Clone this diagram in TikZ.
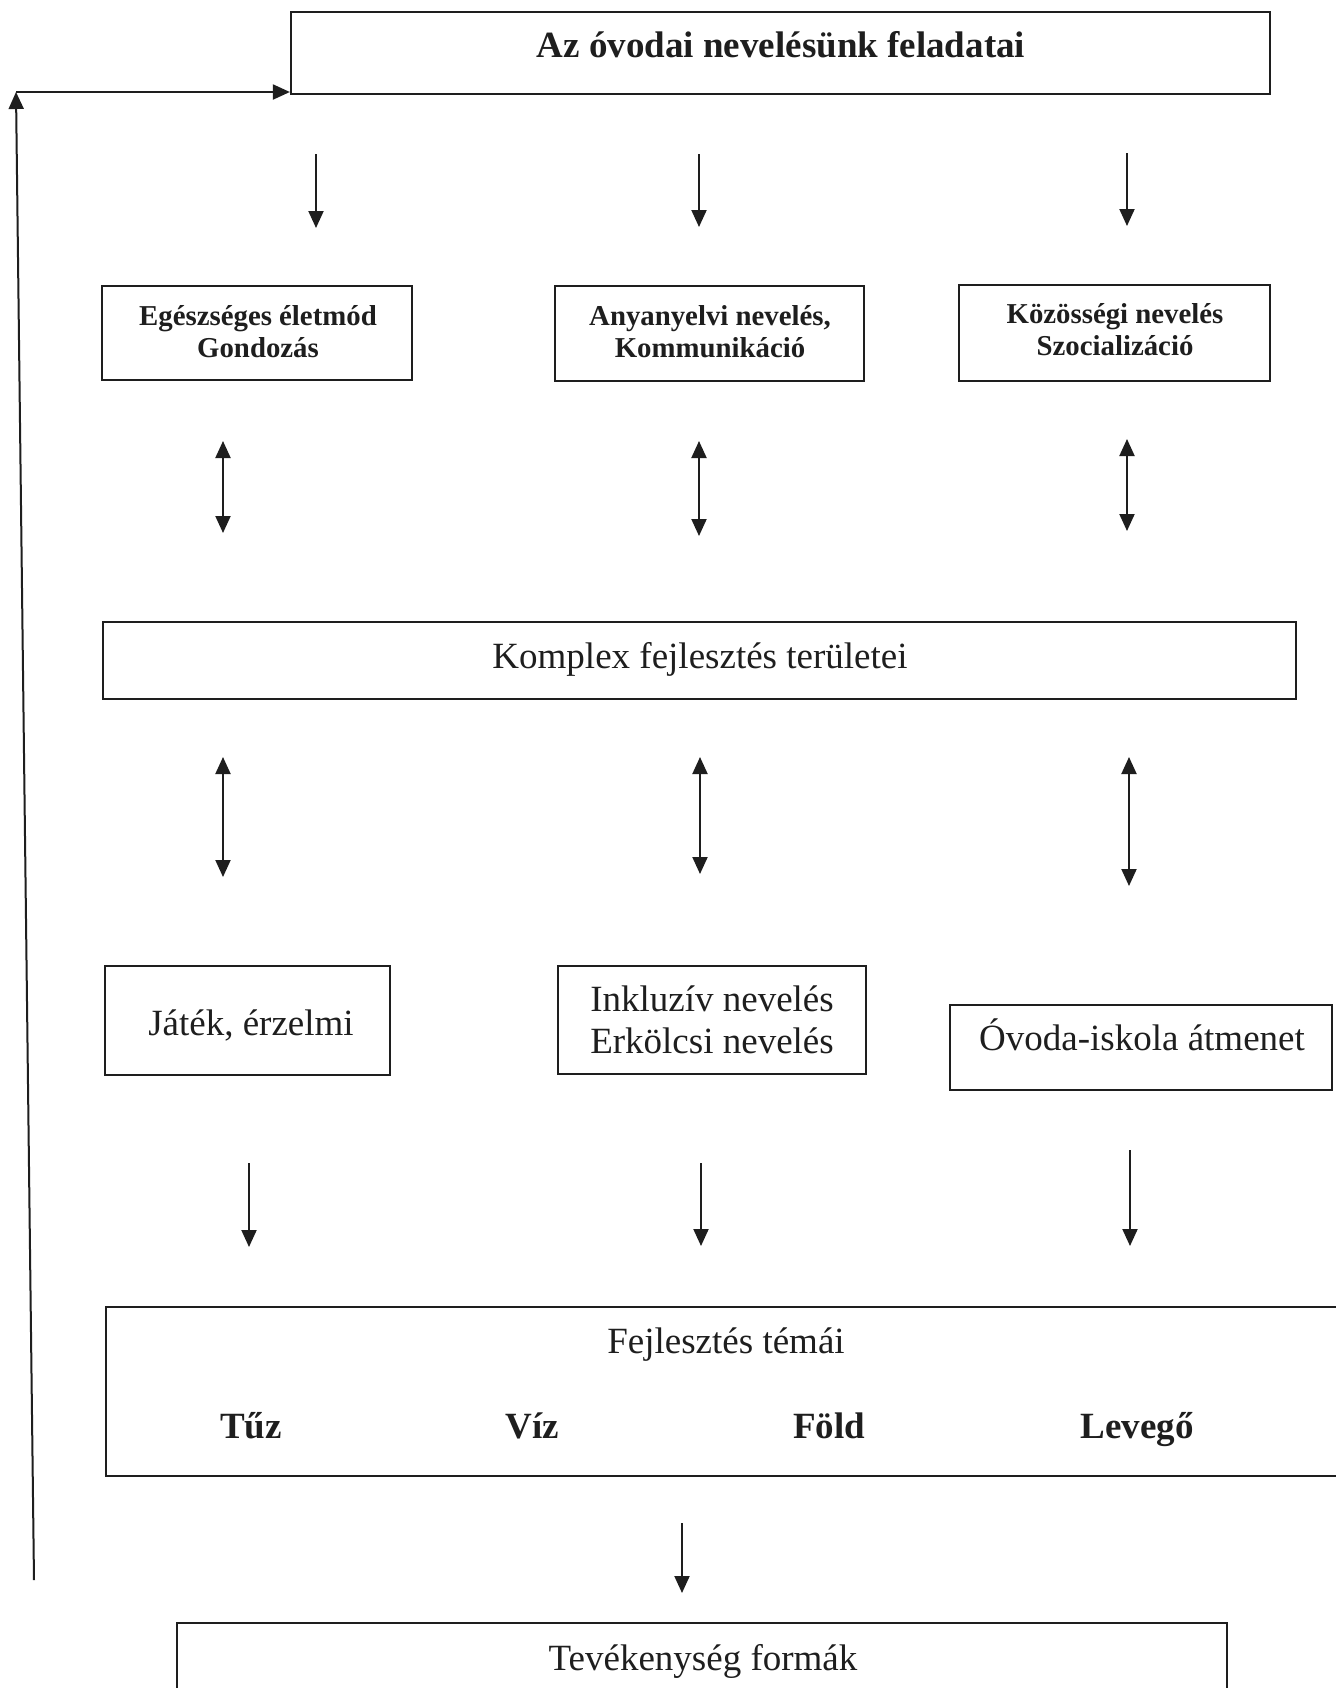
\documentclass[tikz,border=0pt]{standalone}
\usepackage{fontspec}
\setmainfont{Liberation Serif}
\usetikzlibrary{arrows.meta,fit}
\definecolor{ink}{RGB}{30,30,30}
\begin{document}
\begin{tikzpicture}[x=0.5pt,y=-0.5pt,
  box/.style={draw=ink, line width=1.1pt, inner sep=0pt},
  reg/.style={text=ink, font=\fontsize{18.5}{22}\selectfont, inner sep=0pt, anchor=base},
  bld/.style={text=ink, font=\fontsize{18.5}{22}\selectfont\bfseries, inner sep=0pt, anchor=base},
  sml/.style={text=ink, font=\fontsize{14.4}{17}\selectfont\bfseries, inner sep=0pt, anchor=base},
  tip/.style={Triangle[length=8.5pt,width=7.5pt]},
  arr/.style={draw=ink, line width=1pt, -{Triangle[length=8.5pt,width=7.5pt]}},
  darr/.style={draw=ink, line width=1pt, {Triangle[length=8.5pt,width=7.5pt]}-{Triangle[length=8.5pt,width=7.5pt]}}]
\path[use as bounding box, clip] (0,0) rectangle (1336,1688);
\fill[white] (0,0) rectangle (1336,1688);

% title
\node[box, fit={(291,12) (1270,94)}] (title) {};
\node[bld] (ttitle) at (781,57) {Az óvodai nevelésünk feladatai};

% feedback loop
\coordinate (fbbot) at (34,1580);
\coordinate (fbtop) at (16,92);
\draw[arr] (fbbot) -- (fbtop);
\draw[arr] (fbtop) -- (fbtop -| title.west);

% row 1 arrows
\coordinate (d1a) at (316,154); \coordinate (d1b) at (316,228);
\coordinate (d2a) at (699,154); \coordinate (d2b) at (699,227);
\coordinate (d3a) at (1127,153); \coordinate (d3b) at (1127,226);
\draw[arr] (d1a) -- (d1b);
\draw[arr] (d2a) -- (d2b);
\draw[arr] (d3a) -- (d3b);

% row 1 boxes
\node[box, fit={(102,286) (412,380)}] (A) {};
\node[sml] (A1) at (258,325) {Egészséges életmód};
\node[sml] (A2) at (258,357) {Gondozás};
\node[box, fit={(555,286) (864,381)}] (B) {};
\node[sml] (B1) at (710,325) {Anyanyelvi nevelés,};
\node[sml] (B2) at (710,357) {Kommunikáció};
\node[box, fit={(959,285) (1270,381)}] (C) {};
\node[sml] (C1) at (1115,323) {Közösségi nevelés};
\node[sml] (C2) at (1115,355) {Szocializáció};

% row 2 double arrows
\coordinate (e1a) at (223,441); \coordinate (e1b) at (223,533);
\coordinate (e2a) at (699,441); \coordinate (e2b) at (699,536);
\coordinate (e3a) at (1127,439); \coordinate (e3b) at (1127,531);
\draw[darr] (e1a) -- (e1b);
\draw[darr] (e2a) -- (e2b);
\draw[darr] (e3a) -- (e3b);

% komplex
\node[box, fit={(103,622) (1296,699)}] (K) {};
\node[reg] (Kt) at (700,668) {Komplex fejlesztés területei};

% row 3 double arrows
\coordinate (f1a) at (223,757); \coordinate (f1b) at (223,877);
\coordinate (f2a) at (700,757); \coordinate (f2b) at (700,874);
\coordinate (f3a) at (1129,757); \coordinate (f3b) at (1129,886);
\draw[darr] (f1a) -- (f1b);
\draw[darr] (f2a) -- (f2b);
\draw[darr] (f3a) -- (f3b);

% row 4 boxes
\node[box, fit={(105,966) (390,1075)}] (J) {};
\node[reg] (J1) at (251,1035) {Játék, érzelmi};
\node[box, fit={(558,966) (866,1074)}] (I) {};
\node[reg] (I1) at (712,1011) {Inkluzív nevelés};
\node[reg] (I2) at (712,1053) {Erkölcsi nevelés};
\node[box, fit={(950,1005) (1332,1090)}] (O) {};
\node[reg] (O1) at (1142,1050) {Óvoda-iskola átmenet};

% row 5 arrows
\coordinate (g1a) at (249,1163); \coordinate (g1b) at (249,1247);
\coordinate (g2a) at (701,1163); \coordinate (g2b) at (701,1246);
\coordinate (g3a) at (1130,1150); \coordinate (g3b) at (1130,1246);
\draw[arr] (g1a) -- (g1b);
\draw[arr] (g2a) -- (g2b);
\draw[arr] (g3a) -- (g3b);

% fejlesztes temai
\node[box, fit={(106,1307) (1360,1476)}] (F) {};
\node[reg] (Ft) at (726,1353) {Fejlesztés témái};
\node[bld] (F1) at (251,1438) {Tűz};
\node[bld] (F2) at (532,1438) {Víz};
\node[bld] (F3) at (829,1438) {Föld};
\node[bld] (F4) at (1137,1438) {Levegő};

% last arrow
\coordinate (h1a) at (682,1523); \coordinate (h1b) at (682,1593);
\draw[arr] (h1a) -- (h1b);

% tevekenyseg
\node[box, fit={(177,1623) (1227,1730)}] (T) {};
\node[reg] (Tt) at (703,1670) {Tevékenység formák};
\end{tikzpicture}
\end{document}
